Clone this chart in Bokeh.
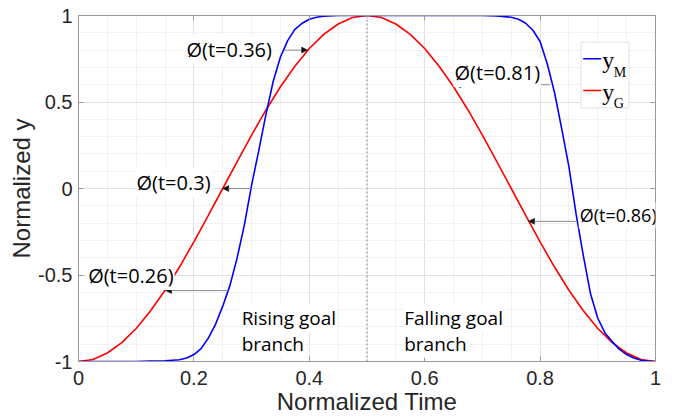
import math
from bokeh.plotting import figure
from bokeh.models import (Range1d, FixedTicker, LinearAxis, Label, Arrow,
                          NormalHead, BoxAnnotation)
from bokeh.embed import file_html
from bokeh.resources import INLINE

# ---------------- data ----------------
t_goal = [0.0, 0.025, 0.05, 0.075, 0.1, 0.125, 0.15, 0.175, 0.2, 0.225,
          0.25, 0.275, 0.3, 0.325, 0.35, 0.375, 0.4, 0.425, 0.45, 0.475,
          0.5, 0.525, 0.55, 0.575, 0.6, 0.625, 0.65, 0.675, 0.7, 0.725,
          0.75, 0.775, 0.8, 0.825, 0.85, 0.875, 0.9, 0.925, 0.95, 0.975, 1.0]
y_goal = [-1.0, -0.988, -0.951, -0.891, -0.809, -0.707, -0.588, -0.454, -0.309, -0.156,
          0.0, 0.156, 0.309, 0.454, 0.588, 0.707, 0.809, 0.891, 0.951, 0.988,
          1.0, 0.988, 0.951, 0.891, 0.809, 0.707, 0.588, 0.454, 0.309, 0.156,
          0.0, -0.156, -0.309, -0.454, -0.588, -0.707, -0.809, -0.891, -0.951, -0.988, -1.0]

t_model = [0.0, 0.05, 0.1, 0.125, 0.15, 0.175, 0.1875, 0.2, 0.2125, 0.225,
           0.2375, 0.25, 0.2625, 0.275, 0.2875, 0.3, 0.3125, 0.325, 0.3375, 0.35,
           0.3625, 0.375, 0.3875, 0.4, 0.4125, 0.425, 0.45, 0.5, 0.6, 0.7,
           0.725, 0.75, 0.7625, 0.775, 0.7875, 0.8, 0.8125, 0.825, 0.8375, 0.85,
           0.8625, 0.875, 0.8875, 0.9, 0.9125, 0.925, 0.9375, 0.95, 0.9625, 0.975,
           0.9875, 1.0]
y_model = [-1.0, -1.0, -1.0, -0.998, -0.996, -0.99, -0.98, -0.96, -0.925, -0.865,
           -0.785, -0.68, -0.56, -0.40, -0.21, 0.02, 0.22, 0.43, 0.62, 0.76,
           0.855, 0.92, 0.955, 0.978, 0.99, 0.996, 1.0, 1.0, 1.0, 1.0,
           0.997, 0.99, 0.978, 0.955, 0.915, 0.85, 0.72, 0.555, 0.345, 0.125,
           -0.15, -0.39, -0.61, -0.75, -0.835, -0.885, -0.93, -0.96, -0.98, -0.993,
           -0.998, -1.0]

x_ticks = [0, 0.2, 0.4, 0.6, 0.8, 1]
x_tick_labels = ["0", "0.2", "0.4", "0.6", "0.8", "1"]
y_ticks = [-1, -0.5, 0, 0.5, 1]
y_tick_labels = ["-1", "-0.5", "0", "0.5", "1"]
x_minor = [0.05, 0.1, 0.15, 0.25, 0.3, 0.35, 0.45, 0.5, 0.55, 0.65, 0.7, 0.75, 0.85, 0.9, 0.95]
y_minor = [-0.9, -0.8, -0.7, -0.6, -0.4, -0.3, -0.2, -0.1, 0.1, 0.2, 0.3, 0.4, 0.6, 0.7, 0.8, 0.9]

# phase-mapping arrows (from y_M to y_G at equal height)
phase_labels = ["Ø(t=0.26)", "Ø(t=0.3)", "Ø(t=0.36)", "Ø(t=0.81)", "Ø(t=0.86)"]
phase_y = [-0.59, 0.0, 0.8, 0.6, -0.19]
phase_t_model = [0.26, 0.299, 0.357, 0.817, 0.863]
phase_t_goal = [0.151, 0.25, 0.397, 0.652, 0.78]
peak_t = 0.5

branch_labels = [["Rising goal", "branch"], ["Falling goal", "branch"]]

# ---------------- layout (positions only) ----------------
phase_label_pos = [(0.015, -0.503), (0.0988, 0.035), (0.1854, 0.803), (0.65, 0.67), (0.867, -0.156)]
phase_label_size = ["20px", "20px", "20px", "20px", "18px"]
branch_pos = [0.281, 0.5627]
branch_line_y = [-0.75, -0.898]

AX = "#9a9a9a"
TXT = "#262626"

p = figure(width=683, height=419, x_range=Range1d(0, 1), y_range=Range1d(-1, 1),
           output_backend="svg", toolbar_location=None,
           min_border_left=78, min_border_right=28, min_border_top=15, min_border_bottom=58)
p.background_fill_color = "white"
p.border_fill_color = "white"
p.outline_line_color = AX

xt = FixedTicker(ticks=x_ticks, minor_ticks=x_minor)
yt = FixedTicker(ticks=y_ticks, minor_ticks=y_minor)
p.xaxis.ticker = xt
p.yaxis.ticker = yt
p.xaxis.major_label_overrides = {float(k): v for k, v in zip(x_ticks, x_tick_labels)}
p.yaxis.major_label_overrides = {float(k): v for k, v in zip(y_ticks, y_tick_labels)}
p.xaxis.axis_label = "Normalized Time"
p.yaxis.axis_label = "Normalized y"
for ax, so, lso in ((p.xaxis, 9, 0), (p.yaxis, 6, 0)):
    ax.axis_line_color = AX
    ax.major_tick_line_color = AX
    ax.major_tick_in = 5
    ax.major_tick_out = 0
    ax.minor_tick_in = 0
    ax.minor_tick_out = 0
    ax.major_label_text_font = "Liberation Sans"
    ax.major_label_text_font_size = "20px"
    ax.major_label_text_color = TXT
    ax.major_label_standoff = so
    ax.axis_label_text_font = "Liberation Sans"
    ax.axis_label_text_font_size = "24px"
    ax.axis_label_text_font_style = "normal"
    ax.axis_label_text_color = TXT
    ax.axis_label_standoff = lso

for loc, tk in (("right", y_ticks), ("above", x_ticks)):
    a = LinearAxis(ticker=FixedTicker(ticks=tk), major_label_text_font_size="1px",
                   major_label_text_color=None,
                   major_tick_in=5, major_tick_out=0, minor_tick_in=0, minor_tick_out=0,
                   axis_line_color=AX, major_tick_line_color=AX, major_label_standoff=0)
    p.add_layout(a, loc)

p.xgrid.ticker = xt
p.ygrid.ticker = yt
for g in (p.xgrid, p.ygrid):
    g.grid_line_color = "#e2e2e2"
    g.minor_grid_line_color = "#f1f1f1"

# curves
p.line(t_goal, y_goal, line_color="#ff0000", line_width=1.6)
p.line(t_model, y_model, line_color="#0000ff", line_width=1.6)

# dashed vertical line at the peak
p.add_layout(Arrow(end=None, x_start=peak_t, y_start=-1.0, x_end=peak_t, y_end=1,
                   line_color="#8a8a8a", line_dash="2 2", line_width=1))

# phase arrows
for yv, tm, tg in zip(phase_y, phase_t_model, phase_t_goal):
    p.add_layout(Arrow(x_start=tm, y_start=yv, x_end=tg, y_end=yv,
                       line_color="#8c8c8c", line_width=1,
                       end=NormalHead(size=6, fill_color="#111111", line_color="#111111", line_width=0.5)))

for txt, (lx, ly), fs in zip(phase_labels, phase_label_pos, phase_label_size):
    p.add_layout(Label(x=lx, y=ly, text=txt, text_font="Open Sans", text_font_size=fs,
                       text_color="black", text_align="left", text_baseline="alphabetic",
                       background_fill_color="white", padding=1))

for lines, bx in zip(branch_labels, branch_pos):
    for txt, ly in zip(lines, branch_line_y):
        p.add_layout(Label(x=bx, y=ly, text=txt, text_font="Open Sans", text_font_size="19px",
                           text_color="black", text_align="left", text_baseline="alphabetic",
                           background_fill_color="white", padding=1))

# legend (manual, with subscripts)
p.add_layout(BoxAnnotation(left=0.871, right=0.954, bottom=0.466, top=0.846,
                           fill_color="white", fill_alpha=1, line_color="#a0a0a0", line_width=1))
legend_items = [("M", "#0000ff", 0.75, 0.74, 0.672), ("G", "#ff0000", 0.566, 0.556, 0.49)]
for sub, col, ly, yb, sb in legend_items:
    p.add_layout(Arrow(end=None, x_start=0.8747, x_end=0.9059, y_start=ly, y_end=ly,
                       line_color=col, line_width=1.5))
    p.add_layout(Label(x=0.9076, y=yb, text="y", text_font="Liberation Serif",
                       text_font_size="24px", text_color="black", text_baseline="alphabetic"))
    p.add_layout(Label(x=0.9277, y=sb, text=sub, text_font="Liberation Serif",
                       text_font_size="14px", text_color="black", text_baseline="alphabetic"))

open("out.html", "w").write(file_html(p, INLINE))
